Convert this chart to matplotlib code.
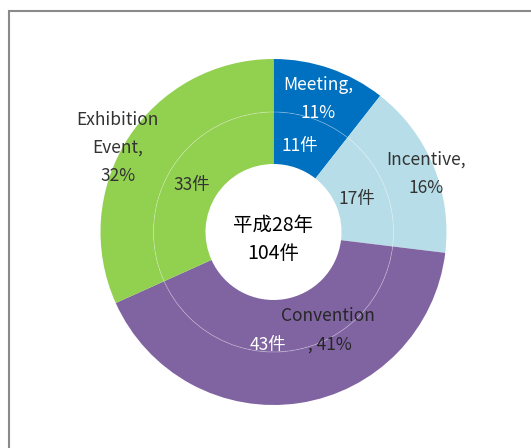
import matplotlib
matplotlib.use("Agg")
import matplotlib.pyplot as plt
from matplotlib.patches import Circle, Rectangle
import numpy as np

plt.rcParams['font.family'] = ['Noto Sans CJK JP', 'DejaVu Sans']

# データ（平成28年）
categories = ["Meeting", "Incentive", "Convention", "Exhibition\nEvent"]
counts = [11, 17, 43, 33]
total_label = ["平成28年", "104件"]

colors = ['#0070C0', '#B7DEE8', '#8064A2', '#92D050']
outer_text_colors = ['white', '#333333', '#262626', '#333333']
inner_text_colors = ['white', '#333333', 'white', '#333333']

# ラベル位置（半径, 角度） - Excel の手動配置に合わせる
outer_pos = [(0.82, 71.5), (0.95, 21.5), (0.64, -60.5), (1.03, 151.0)]
inner_pos = [(0.53, 73.0), (0.52, 22.7), (0.64, -93.0), (0.55, 149.0)]

W, H = 531, 448
cx, cy, R = 273.5, 232, 173
r_mid, r_hole = 120, 68
line_h = 28 / R    # 行間（データ単位）
dy = -2 / R        # フォントの縦位置補正

fig = plt.figure(figsize=(W / 100, H / 100), dpi=100)
ax = fig.add_axes([(cx - R) / W, (H - cy - R) / H, 2 * R / W, 2 * R / H])

# 外側と内側のリング
ax.pie(counts, radius=1.0, startangle=90, counterclock=False, colors=colors,
       wedgeprops=dict(width=(R - r_mid) / R, linewidth=0))
ax.pie(counts, radius=r_mid / R, startangle=90, counterclock=False, colors=colors,
       wedgeprops=dict(width=(r_mid - r_hole) / R, linewidth=0))
ax.add_patch(Circle((0, 0), r_mid / R, fill=False, edgecolor='white',
                    linewidth=0.6, alpha=0.3))
ax.set_xlim(-1, 1)
ax.set_ylim(-1, 1)
ax.set_aspect('equal')
ax.axis('off')


def multiline(x, y, lines, **kw):
    n = len(lines)
    for k, s in enumerate(lines):
        ax.text(x, y + dy - (k - (n - 1) / 2) * line_h, s, ha='center', va='center', **kw)


total = sum(counts)
for i, cat in enumerate(categories):
    pct = round(counts[i] / total * 100)
    if cat == "Convention":
        lines = [cat, f" , {pct}%"]
    else:
        lines = (cat + ",").split("\n") + [f"{pct}%"]
    r, a = outer_pos[i]
    multiline(r * np.cos(np.radians(a)), r * np.sin(np.radians(a)), lines,
              fontsize=12.5, color=outer_text_colors[i])
    r, a = inner_pos[i]
    multiline(r * np.cos(np.radians(a)), r * np.sin(np.radians(a)), [f"{counts[i]}件"],
              fontsize=12.5, color=inner_text_colors[i])

multiline(0, -0.03, total_label, fontsize=14, color='black')

# 外枠
fig.patches.append(Rectangle((9 / W, -0.1), 1.2, (H - 11) / H + 0.1,
                             transform=fig.transFigure, fill=False,
                             edgecolor='#8a8a8a', linewidth=1.5))

plt.savefig('out.png', dpi=100)
